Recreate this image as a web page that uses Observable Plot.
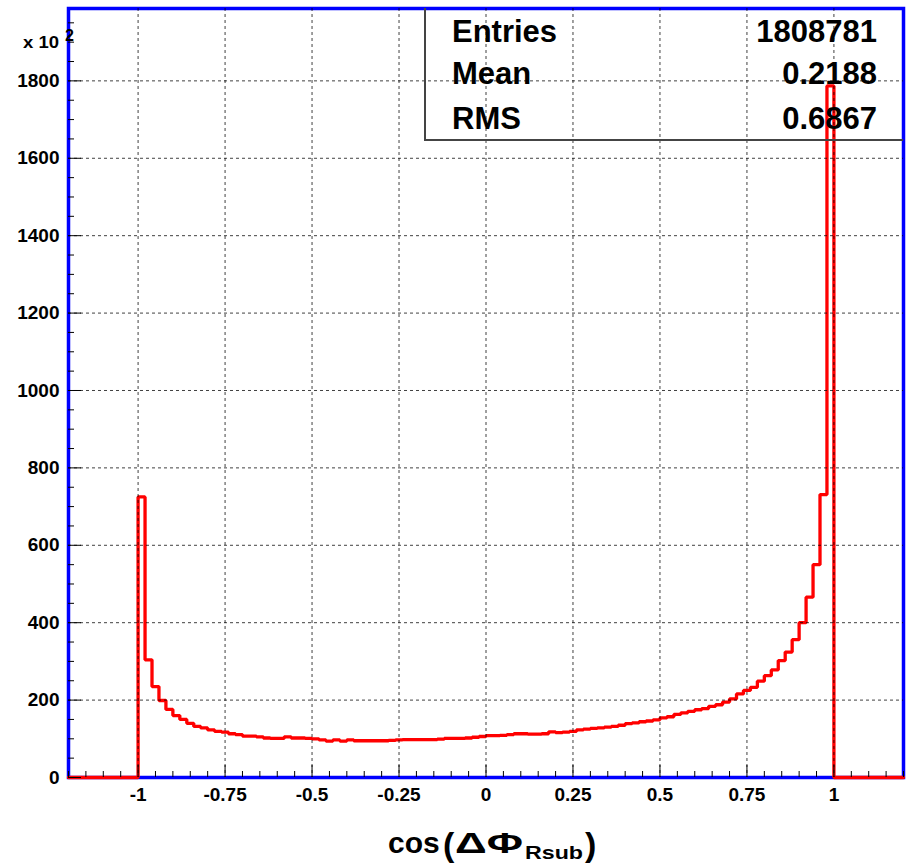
<!DOCTYPE html>
<html>
<head>
<meta charset="utf-8">
<script src="https://cdn.jsdelivr.net/npm/d3@7"></script>
<script src="https://cdn.jsdelivr.net/npm/@observablehq/plot@0.6"></script>
<style>
  html, body { margin: 0; padding: 0; background: #fff; }
  svg { display: block; }
</style>
</head>
<body>
<div id="chart"></div>
<script>
// ---- data (in units of 10^2 entries per bin) ----
const counts = [
  725, 304, 235, 199, 176, 160, 150, 140, 132, 128,
  123, 119, 117, 113, 111, 107, 107, 105, 102, 101,
  101, 105, 102, 102, 101, 100,  97,  94,  97,  94,
   97,  95,  95,  95,  95,  95,  96,  97,  98,  98,
   98,  98,  98,  99, 101, 101, 101, 102, 104, 106,
  108, 108, 109, 111, 113, 113, 112, 112, 113, 118,
  116, 117, 119, 123, 125, 127, 128, 130, 132, 135,
  139, 141, 144, 146, 149, 154, 157, 163, 167, 171,
  175, 178, 184, 188, 195, 203, 216, 225, 233, 249,
  263, 278, 302, 324, 356, 400, 466, 550, 731, 1787
];
const binLow = -1;
const binWidth = 0.02;
const xRange = [-1.2, 1.2];
const yMax = 1987;

const xTicks = [-1, -0.75, -0.5, -0.25, 0, 0.25, 0.5, 0.75, 1];
const xTickLabels = ["-1", "-0.75", "-0.5", "-0.25", "0", "0.25", "0.5", "0.75", "1"];
const yTicks = [0, 200, 400, 600, 800, 1000, 1200, 1400, 1600, 1800];
const yTickLabels = ["0", "200", "400", "600", "800", "1000", "1200", "1400", "1600", "1800"];

const statLabels = ["Entries", "Mean", "RMS"];
const statValues = ["1808781", "0.2188", "0.6867"];

// ---- layout ----
const W = 906, H = 868;
const mL = 68, mR = 3, mT = 8, mB = 91;
const plotW = W - mL - mR, plotH = H - mT - mB;
const FONT = "'Liberation Sans', Arial, Helvetica, sans-serif";

// outline points of the histogram (with empty under/overflow ranges)
const outline = [{x: xRange[0], y: 0}, {x: binLow, y: 0}];
counts.forEach((c, i) => {
  outline.push({x: binLow + i * binWidth, y: c});
  outline.push({x: binLow + (i + 1) * binWidth, y: c});
});
outline.push({x: binLow + counts.length * binWidth, y: 0});
outline.push({x: xRange[1], y: 0});

const xMinor = d3.range(-1.2, 1.2001, 0.05).map(d => +d.toFixed(2)).filter(d => !xTicks.includes(d));
const yMinor = d3.range(0, yMax, 50).filter(d => !yTicks.includes(d));

const svg = Plot.plot({
  width: W,
  height: H,
  marginLeft: mL,
  marginRight: mR,
  marginTop: mT,
  marginBottom: mB,
  style: {background: "#fff", fontFamily: FONT},
  x: {domain: xRange},
  y: {domain: [0, yMax]},
  marks: [
    Plot.frame({stroke: "#0000ff", strokeWidth: 3.5}),
    Plot.line(outline, {x: "x", y: "y", stroke: "#ff0000", strokeWidth: 3.3, strokeLinejoin: "miter"}),
    Plot.gridX(xTicks, {stroke: "#000", strokeOpacity: 0.75, strokeWidth: 1, strokeDasharray: "3,3"}),
    Plot.gridY(yTicks.filter(d => d > 0), {stroke: "#000", strokeOpacity: 0.75, strokeWidth: 1, strokeDasharray: "3,3"}),
    Plot.tickX(xTicks, {x: d => d, stroke: "#000", strokeWidth: 1, insetTop: plotH - 12}),
    Plot.tickX(xMinor, {x: d => d, stroke: "#000", strokeWidth: 1, insetTop: plotH - 6}),
    Plot.tickY(yTicks, {y: d => d, stroke: "#000", strokeWidth: 1, insetRight: plotW - 13}),
    Plot.tickY(yMinor, {y: d => d, stroke: "#000", strokeWidth: 1, insetRight: plotW - 6}),
    Plot.axisX({ticks: xTicks, tickSize: 0, tickPadding: 10, fontSize: 19, fontWeight: "bold",
      fontFamily: FONT, fill: "#000", label: null,
      tickFormat: d => xTickLabels[xTicks.indexOf(d)]}),
    Plot.axisY({ticks: yTicks, tickSize: 0, tickPadding: 9, fontSize: 19, fontWeight: "bold",
      fontFamily: FONT, fill: "#000", label: null,
      tickFormat: d => yTickLabels[yTicks.indexOf(d)]})
  ]
});

const s = d3.select(svg);
function addText(x, y, str, size, opts = {}) {
  const t = s.append("text")
    .attr("x", x).attr("y", y)
    .attr("text-anchor", opts.anchor || "start")
    .attr("font-family", FONT)
    .attr("font-weight", opts.weight || "bold")
    .attr("font-size", size)
    .attr("fill", "#000")
    .text(str);
  if (opts.length) t.attr("textLength", opts.length).attr("lengthAdjust", "spacingAndGlyphs");
  return t;
}

// exponent label "x 10^2"
addText(23, 48, "x 10", 16, {length: 36});
addText(65, 41, "2", 16);

// statistics box (transparent, left and bottom edges)
s.append("path").attr("d", `M425,${mT} V140 H${W - mR}`).attr("fill", "none")
  .attr("stroke", "#444").attr("stroke-width", 2);
const statY = [42, 84, 129];
statLabels.forEach((t, i) => {
  addText(452, statY[i], t, 31);
  addText(877, statY[i], statValues[i], 31, {anchor: "end"});
});

// x-axis title: cos (ΔΦ_Rsub)
addText(388, 853, "cos", 30);
addText(443, 855.5, "(", 34);
addText(455, 853, "ΔΦ", 29, {length: 68});
addText(525, 859, "Rsub", 19, {length: 58});
addText(585, 855.5, ")", 34);

document.getElementById("chart").appendChild(svg);
</script>
</body>
</html>
